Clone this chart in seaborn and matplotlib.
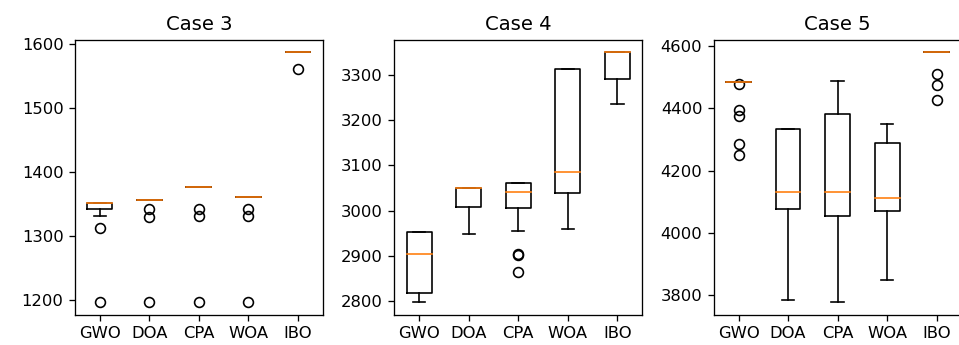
import matplotlib
matplotlib.use("Agg")
import matplotlib.pyplot as plt
import pandas as pd
import seaborn as sns

algorithms = ["GWO", "DOA", "CPA", "WOA", "IBO"]
case_titles = ["Case 3", "Case 4", "Case 5"]

# Case 3 runs
c3_gwo = [1197, 1312, 1331, 1342, 1342, 1342, 1346, 1349, 1351, 1352,
          1352, 1352, 1352, 1352, 1352, 1352, 1352, 1352, 1352, 1352]
c3_doa = [1197, 1330, 1342, 1357, 1357, 1357, 1357, 1357, 1357, 1357,
          1357, 1357, 1357, 1357, 1357, 1357, 1357, 1357, 1357, 1357]
c3_cpa = [1197, 1331, 1342, 1377, 1377, 1377, 1377, 1377, 1377, 1377,
          1377, 1377, 1377, 1377, 1377, 1377, 1377, 1377, 1377, 1377]
c3_woa = [1197, 1331, 1342, 1362, 1362, 1362, 1362, 1362, 1362, 1362,
          1362, 1362, 1362, 1362, 1362, 1362, 1362, 1362, 1362, 1362]
c3_ibo = [1562, 1588, 1588, 1588, 1588, 1588, 1588, 1588, 1588, 1588,
          1588, 1588, 1588, 1588, 1588, 1588, 1588, 1588, 1588, 1588]

# Case 4 runs
c4_gwo = [2798, 2805, 2810, 2814, 2817, 2817, 2850, 2875, 2895, 2904,
          2904, 2920, 2935, 2945, 2952, 2952, 2952, 2952, 2952, 2952]
c4_doa = [2948, 2970, 2985, 3000, 3008, 3008, 3020, 3035, 3045, 3050,
          3050, 3050, 3050, 3050, 3050, 3050, 3050, 3050, 3050, 3050]
c4_cpa = [2865, 2901, 2904, 2955, 3006, 3006, 3015, 3025, 3035, 3041,
          3041, 3048, 3055, 3060, 3062, 3062, 3062, 3062, 3062, 3062]
c4_woa = [2959, 2990, 3010, 3030, 3040, 3040, 3050, 3065, 3078, 3086,
          3086, 3120, 3180, 3250, 3313, 3313, 3313, 3313, 3313, 3313]
c4_ibo = [3235, 3250, 3265, 3280, 3291, 3291, 3310, 3330, 3345, 3351,
          3351, 3351, 3351, 3351, 3351, 3351, 3351, 3351, 3351, 3351]

# Case 5 runs
c5_gwo = [4250, 4285, 4376, 4394, 4477, 4485, 4485, 4485, 4485, 4485,
          4485, 4485, 4485, 4485, 4485, 4485, 4485, 4485, 4485, 4485,
          4485, 4485, 4485, 4485]
c5_doa = [3786, 3900, 3980, 4040, 4077, 4077, 4090, 4105, 4120, 4131,
          4131, 4180, 4230, 4290, 4333, 4333, 4333, 4333, 4333, 4333]
c5_cpa = [3779, 3880, 3960, 4020, 4056, 4056, 4075, 4095, 4115, 4133,
          4133, 4180, 4240, 4310, 4381, 4381, 4410, 4440, 4465, 4488]
c5_woa = [3850, 3930, 3990, 4040, 4070, 4070, 4082, 4095, 4105, 4113,
          4113, 4150, 4200, 4250, 4288, 4288, 4300, 4315, 4330, 4349]
c5_ibo = [4426, 4475, 4509, 4581, 4581, 4581, 4581, 4581, 4581, 4581,
          4581, 4581, 4581, 4581, 4581, 4581, 4581, 4581, 4581, 4581]

cases = [
    [c3_gwo, c3_doa, c3_cpa, c3_woa, c3_ibo],
    [c4_gwo, c4_doa, c4_cpa, c4_woa, c4_ibo],
    [c5_gwo, c5_doa, c5_cpa, c5_woa, c5_ibo],
]

S = 1.18  # scale of matplotlib defaults to match the reference resolution
plt.rcParams.update({
    "font.family": "DejaVu Sans",
    "xtick.labelsize": 10 * S,
    "ytick.labelsize": 10 * S,
    "axes.titlesize": 12 * S,
    "axes.linewidth": 0.8 * S,
    "xtick.major.width": 0.8 * S,
    "ytick.major.width": 0.8 * S,
    "xtick.major.size": 3.5 * S,
    "ytick.major.size": 3.5 * S,
    "xtick.major.pad": 3.5 * S,
    "ytick.major.pad": 3.5 * S,
    "axes.titlepad": 6 * S,
})

fig, axes = plt.subplots(1, 3, figsize=(9.59, 3.45), dpi=100)
fig.subplots_adjust(left=75 / 959, right=961.5 / 959, bottom=30.5 / 345,
                    top=1 - 39.5 / 345, wspace=0.289)

for ax, title, runs in zip(axes, case_titles, cases):
    rows = []
    for alg, vals in zip(algorithms, runs):
        for v in vals:
            rows.append({"algorithm": alg, "value": v})
    df = pd.DataFrame(rows)

    sns.boxplot(
        data=df, x="algorithm", y="value", order=algorithms, ax=ax,
        color="black", fill=False, width=0.5, linewidth=1.0 * S,
        medianprops={"color": "#ff7f0e", "solid_capstyle": "projecting",
                     "zorder": 3},
        whiskerprops={"solid_capstyle": "projecting"},
        flierprops={"marker": "o", "markerfacecolor": "none",
                    "markeredgecolor": "black", "markersize": 6 * S,
                    "markeredgewidth": 1.0 * S},
    )
    ax.set_title(title)
    ax.set_xlabel("")
    ax.set_ylabel("")
    ax.margins(y=0.05)

plt.savefig("out.png", dpi=100)
plt.close()
